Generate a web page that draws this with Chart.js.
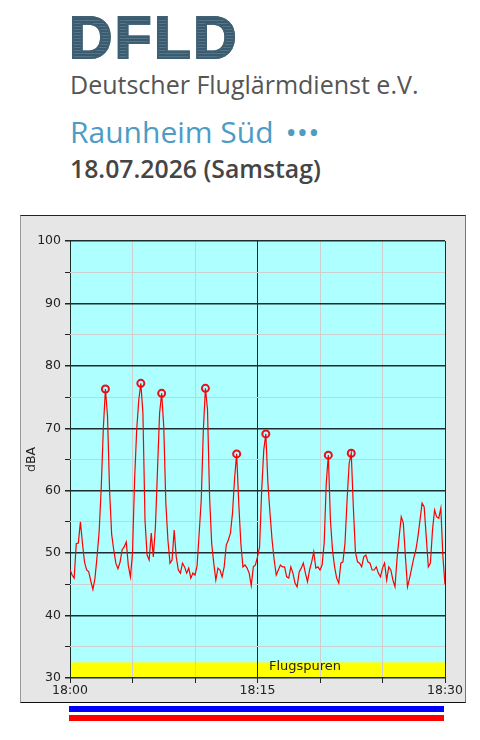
<!DOCTYPE html>
<html>
<head>
    <title>DFLD Raunheim Süd</title>
    <script src="https://cdn.jsdelivr.net/npm/chart.js@4.4.1/dist/chart.umd.min.js"></script>
    <style>
        body {
            margin: 0;
            padding: 0;
            background: #ffffff;
            width: 480px;
            height: 740px;
            position: relative;
            overflow: hidden;
            font-family: "Open Sans", sans-serif;
        }
        .logo {
            position: absolute;
            left: 69px;
            top: 3px;
            font-family: "Liberation Sans", Arial, sans-serif;
            font-weight: bold;
            font-size: 60px;
            line-height: normal;
            letter-spacing: 2.5px;
            background: repeating-linear-gradient(180deg, #3a5b6d 0px, #3a5b6d 2px, #56758a 2px, #56758a 3px);
            -webkit-background-clip: text;
            background-clip: text;
            color: transparent;
            -webkit-text-stroke: 2px #3f6072;
        }
        .org {
            position: absolute;
            left: 70px;
            top: 67px;
            font-size: 25px;
            color: #555555;
            line-height: normal;
        }
        .station {
            position: absolute;
            left: 70px;
            top: 111px;
            font-size: 30px;
            color: #4c9cc3;
            line-height: normal;
        }
        .station .dots {
            font-size: 30px;
            letter-spacing: 0px;
            margin-left: 12px;
        }
        .date {
            position: absolute;
            left: 70px;
            top: 151px;
            font-size: 24.8px;
            font-weight: 600;
            color: #454545;
            line-height: normal;
        }
        .chart-box {
            position: absolute;
            left: 20px;
            top: 215px;
            width: 444px;
            height: 486px;
            background: #e6e6e6;
            border-top: 1px solid #222;
            border-bottom: 1px solid #111;
            border-left: 1px solid #999;
            border-right: 1px solid #777;
        }
        .bar {
            position: absolute;
            left: 69px;
            width: 375px;
            height: 6px;
        }
    </style>
</head>
<body>
    <div class="logo">DFLD</div>
    <div class="org">Deutscher Fluglärmdienst e.V.</div>
    <div class="station">Raunheim Süd<span class="dots">•••</span></div>
    <div class="date">18.07.2026 (Samstag)</div>

    <div class="chart-box">
        <canvas id="noiseChart" width="444" height="486"></canvas>
    </div>
    <div class="bar" style="top: 706px; background: #0000ff;"></div>
    <div class="bar" style="top: 715px; background: #ff0000;"></div>

    <script>
        // Schallpegel alle 10 Sekunden, 18:00 - 18:30 (dBA)
        const levels = [
            47.4, 46.5, 46.0, 51.5, 51.6, 55.0, 51.5, 48.5, 47.3, 47.0,
            45.5, 44.2, 46.0, 49.5, 53.5, 60.5, 70.0, 76.3, 72.0, 60.0,
            53.0, 50.5, 48.4, 47.5, 48.5, 50.5, 51.0, 51.8, 48.0, 46.2,
            50.0, 61.7, 69.7, 74.5, 77.2, 72.4, 55.3, 49.7, 48.9, 53.2,
            49.4, 54.2, 63.3, 72.4, 75.6, 70.3, 58.0, 52.1, 48.4, 48.9,
            53.7, 49.4, 47.3, 46.8, 48.4, 47.8, 46.8, 47.6, 46.0, 46.8,
            46.5, 48.0, 53.2, 58.5, 69.7, 76.4, 73.0, 59.0, 51.6, 48.4,
            45.7, 47.6, 47.3, 46.2, 47.8, 51.3, 52.1, 53.2, 56.4, 62.0,
            65.9, 58.0, 51.6, 47.8, 48.1, 47.6, 46.8, 44.8, 47.8, 48.1,
            49.4, 51.0, 60.0, 66.5, 69.1, 61.2, 56.4, 52.1, 48.9, 46.5,
            47.3, 48.1, 47.8, 47.8, 46.2, 46.0, 47.8, 46.8, 45.2, 44.6,
            47.0, 47.6, 48.4, 46.8, 45.4, 47.3, 48.6, 50.2, 47.6, 47.8,
            47.3, 48.1, 51.6, 61.2, 65.7, 55.3, 50.5, 47.8, 46.0, 45.2,
            48.4, 48.6, 51.6, 58.5, 64.4, 66.0, 57.4, 50.2, 48.6, 48.4,
            47.8, 49.4, 49.7, 48.6, 48.4, 47.3, 47.3, 47.8, 46.8, 46.2,
            47.6, 48.4, 45.7, 47.8, 47.3, 45.7, 44.6, 49.2, 52.6, 55.8,
            54.8, 49.4, 44.6, 46.0, 47.6, 49.2, 50.5, 52.6, 55.3, 58.0,
            57.4, 52.6, 47.8, 48.4, 53.7, 56.9, 55.8, 55.6, 57.2, 49.4,
            45.0
        ];
        const sampleMinutes = 10 / 60;

        // Maxima der Überflüge (Index in levels)
        const peakIdx = [17, 34, 44, 65, 80, 94, 124, 135];

        const xTickValues = [0, 15, 30];
        const xTickLabels = ['18:00', '18:15', '18:30'];

        // Flugspuren-Band
        const bandTop = 32.5;
        const bandLabel = 'Flugspuren';

        const linePoints = levels.map((v, i) => ({ x: i * sampleMinutes, y: v }));
        const peakPoints = peakIdx.map(i => ({ x: i * sampleMinutes, y: levels[i] }));

        const plotBackground = {
            id: 'plotBackground',
            beforeDraw(chart) {
                const { ctx, chartArea: a, scales } = chart;
                ctx.save();
                ctx.fillStyle = '#aeffff';
                ctx.fillRect(a.left, a.top, a.right - a.left, a.bottom - a.top);
                const yb = scales.y.getPixelForValue(bandTop);
                ctx.fillStyle = '#ffff00';
                ctx.fillRect(a.left, yb, a.right - a.left, a.bottom - yb);
                ctx.fillStyle = '#222';
                ctx.font = '13px "DejaVu Sans"';
                ctx.textAlign = 'center';
                ctx.textBaseline = 'middle';
                ctx.fillText(bandLabel, scales.x.getPixelForValue(18.8), yb + 4);
                ctx.restore();
            }
        };

        const ctx = document.getElementById('noiseChart').getContext('2d');
        new Chart(ctx, {
            type: 'line',
            data: {
                datasets: [
                    {
                        data: linePoints,
                        borderColor: '#ff0000',
                        borderWidth: 1.2,
                        pointRadius: 0,
                        tension: 0
                    },
                    {
                        data: peakPoints,
                        showLine: false,
                        pointRadius: 3.5,
                        pointBorderWidth: 2,
                        pointBorderColor: '#e8101c',
                        pointBackgroundColor: 'rgba(255,255,255,0)'
                    }
                ]
            },
            options: {
                responsive: false,
                animation: false,
                layout: { padding: { top: 25, right: 20, left: 0, bottom: 0 } },
                plugins: {
                    legend: { display: false },
                    tooltip: { enabled: false }
                },
                scales: {
                    x: {
                        type: 'linear',
                        min: 0,
                        max: 30,
                        afterFit(scale) { scale.height = 24; },
                        afterBuildTicks(scale) {
                            scale.ticks = [0, 5, 10, 15, 20, 25, 30].map(v => ({ value: v }));
                        },
                        ticks: {
                            autoSkip: false,
                            maxRotation: 0,
                            padding: 0,
                            color: '#222',
                            font: { family: 'DejaVu Sans', size: 12.5 },
                            callback(v) {
                                const k = xTickValues.indexOf(v);
                                return k >= 0 ? xTickLabels[k] : '';
                            }
                        },
                        grid: {
                            tickLength: 5,
                            tickColor: '#222',
                            lineWidth: 1,
                            color(c) {
                                const v = c.tick ? c.tick.value : 0;
                                return (v === 0 || v === 15 || v === 30) ? '#1a2e2e' : '#cfcfcf';
                            }
                        },
                        border: { display: false }
                    },
                    y: {
                        min: 30,
                        max: 100,
                        afterFit(scale) { scale.width = 49; },
                        ticks: {
                            stepSize: 5,
                            padding: 4,
                            color: '#222',
                            font: { family: 'DejaVu Sans', size: 12.5 },
                            callback(v) { return v % 10 === 0 ? v : ''; }
                        },
                        title: {
                            display: true,
                            text: 'dBA',
                            color: '#222',
                            padding: { top: 3, bottom: 0 },
                            font: { family: 'DejaVu Sans', size: 12.5 }
                        },
                        grid: {
                            tickLength: 5,
                            tickColor: '#222',
                            lineWidth(c) { return c.tick && c.tick.value % 10 === 0 ? 1.5 : 1; },
                            color(c) {
                                return c.tick && c.tick.value % 10 === 0 ? '#1a2e2e' : '#cfcfcf';
                            }
                        },
                        border: { display: false }
                    }
                }
            },
            plugins: [plotBackground]
        });
    </script>
</body>
</html>
